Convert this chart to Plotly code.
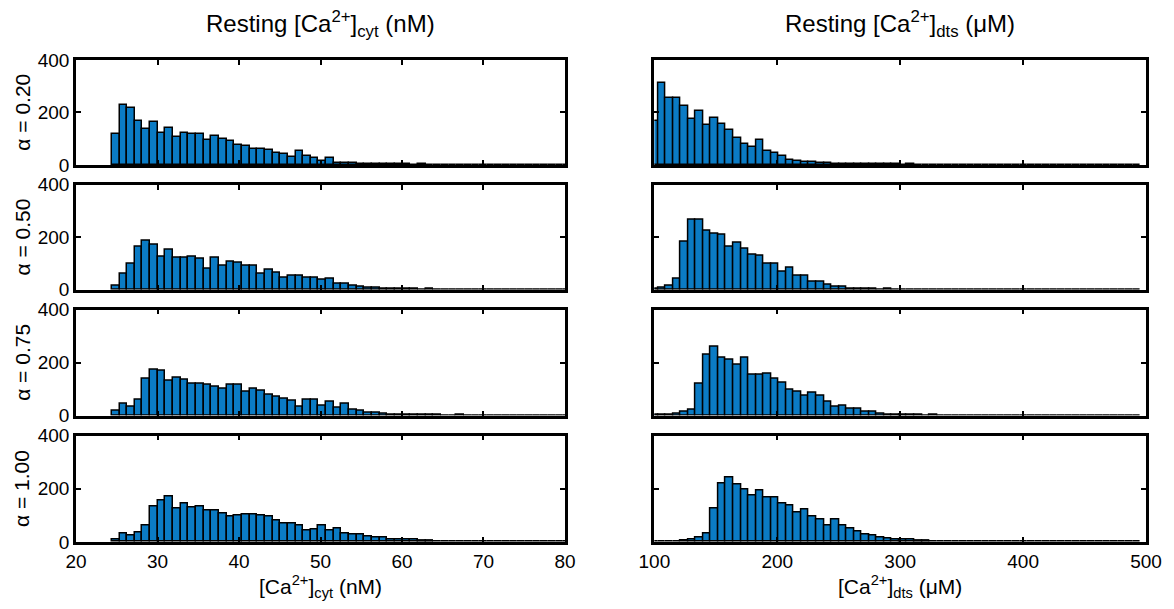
import numpy as np
import plotly.graph_objects as go

# ---------------- data ----------------
alpha_labels = ["α = 0.20", "α = 0.50", "α = 0.75", "α = 1.00"]

cyt_bin_start = 24.4
cyt_bin_width = 0.939
dts_bin_start = 96.8
dts_bin_width = 6.135

cyt_a020 = [119, 229, 216, 169, 137, 165, 121, 141, 106, 122,
            119, 116, 94, 112, 97, 90, 77, 71, 62, 59,
            56, 44, 41, 31, 54, 34, 25, 16, 25, 9,
            8, 6, 5, 4, 3, 3, 2, 2, 2, 1,
            2, 1, 1, 1, 0, 1, 1, 0, 1, 0,
            0, 1, 0, 0, 1, 0, 0, 0, 0, 0]
cyt_a050 = [15, 62, 97, 165, 185, 170, 126, 151, 123, 123,
            126, 119, 80, 123, 90, 107, 101, 90, 90, 61,
            75, 65, 45, 52, 54, 45, 45, 39, 41, 23,
            23, 15, 10, 6, 6, 3, 5, 3, 2, 2,
            1, 2, 1, 1, 1, 0, 1, 0, 1, 0,
            1, 0, 0, 1, 0, 1, 0, 0, 0, 0]
cyt_a075 = [17, 45, 34, 61, 140, 175, 169, 131, 143, 134,
            121, 121, 117, 111, 102, 117, 117, 89, 102, 93,
            80, 73, 64, 57, 34, 59, 59, 38, 51, 29,
            45, 22, 17, 11, 11, 6, 4, 3, 5, 3,
            2, 2, 3, 1, 1, 2, 1, 1, 0, 1,
            1, 0, 1, 0, 0, 1, 0, 0, 0, 0]
cyt_a100 = [10, 32, 23, 35, 63, 134, 156, 172, 124, 146,
            130, 134, 118, 118, 105, 96, 99, 103, 103, 99,
            95, 82, 70, 70, 61, 42, 48, 63, 42, 51,
            32, 29, 27, 20, 15, 15, 10, 8, 8, 10,
            5, 4, 3, 2, 2, 1, 1, 2, 1, 1,
            0, 1, 0, 1, 0, 0, 1, 0, 0, 0]

dts_a020 = [166, 311, 254, 254, 226, 176, 207, 151, 179, 157,
            132, 104, 80, 70, 95, 54, 47, 32, 20, 16,
            11, 10, 7, 6, 5, 4, 4, 3, 3, 2,
            3, 2, 2, 1, 2, 1, 1, 1, 1, 0,
            1, 1, 0, 1, 0, 1, 0, 0, 1, 0,
            0, 1, 0, 0, 0, 1, 0, 0, 0, 0, 0, 0, 0, 0, 0]
dts_a050 = [3, 6, 15, 41, 183, 268, 268, 226, 215, 209,
            164, 179, 155, 135, 129, 99, 99, 67, 84, 52,
            52, 32, 32, 19, 13, 13, 3, 5, 2, 2,
            1, 2, 1, 1, 1, 0, 1, 1, 0, 1,
            0, 1, 0, 0, 1, 0, 0, 1, 0, 0,
            0, 0, 1, 0, 0, 0, 0, 0, 0, 0, 0, 0, 0, 0, 0]
dts_a075 = [2, 3, 4, 9, 13, 22, 121, 229, 261, 220,
            210, 191, 217, 155, 155, 159, 140, 124, 96, 89,
            76, 85, 76, 51, 32, 38, 25, 25, 13, 13,
            6, 4, 3, 3, 2, 2, 1, 2, 1, 1,
            1, 0, 1, 1, 0, 1, 0, 0, 1, 0,
            0, 1, 0, 0, 0, 0, 1, 0, 0, 0, 0, 0, 0, 0, 0]
dts_a100 = [2, 1, 1, 2, 4, 8, 16, 33, 124, 219,
            242, 215, 197, 175, 194, 168, 168, 143, 137, 111,
            122, 96, 86, 63, 86, 63, 51, 38, 29, 25,
            16, 13, 10, 10, 8, 5, 4, 3, 3, 2,
            2, 1, 1, 1, 1, 0, 1, 0, 1, 0,
            0, 1, 0, 0, 0, 1, 0, 0, 0, 0, 0, 0, 0, 0, 0]

cyt_counts = [cyt_a020, cyt_a050, cyt_a075, cyt_a100]
dts_counts = [dts_a020, dts_a050, dts_a075, dts_a100]

cyt_xticks = [20, 30, 40, 50, 60, 70, 80]
dts_xticks = [100, 200, 300, 400, 500]
yticks = [0, 200, 400]

col_titles = ["Resting [Ca<sup>2+</sup>]<sub>cyt</sub> (nM)",
              "Resting [Ca<sup>2+</sup>]<sub>dts</sub> (μM)"]
x_titles = ["[Ca<sup>2+</sup>]<sub>cyt</sub> (nM)",
            "[Ca<sup>2+</sup>]<sub>dts</sub> (μM)"]

# ---------------- style ----------------
BLUE = "#0b7bc4"
FONT = "Arial, Liberation Sans, sans-serif"
W, H = 1174, 609
ML, MR, MT, MB = 76, 24, 60, 67

x_domains = [[0.0, 0.457], [0.5405, 1.0]]
y_domains = [[0.7824, 1.0], [0.5233, 0.741], [0.2622, 0.4819], [0.0, 0.2207]]

fig = go.Figure()
layout = {}
idx = 0
for r in range(4):
    for c in range(2):
        idx += 1
        xa = "x" if idx == 1 else f"x{idx}"
        ya = "y" if idx == 1 else f"y{idx}"
        if c == 0:
            start, bw, counts = cyt_bin_start, cyt_bin_width, cyt_counts[r]
        else:
            start, bw, counts = dts_bin_start, dts_bin_width, dts_counts[r]
        centers = start + bw * (np.arange(len(counts)) + 0.5)
        fig.add_trace(go.Bar(
            x=centers, y=counts, width=bw, xaxis=xa, yaxis=ya,
            marker=dict(color=BLUE, line=dict(color="black", width=1.5)),
            showlegend=False, hoverinfo="skip"))
        xkey = "xaxis" if idx == 1 else f"xaxis{idx}"
        ykey = "yaxis" if idx == 1 else f"yaxis{idx}"
        xt = cyt_xticks if c == 0 else dts_xticks
        layout[xkey] = dict(
            domain=x_domains[c], anchor=ya,
            range=[xt[0], xt[-1]], tickmode="array", tickvals=xt,
            ticktext=[str(v) for v in xt],
            showticklabels=(r == 3),
            ticks="inside", ticklen=5, tickwidth=2, tickcolor="black",
            showline=True, linewidth=2.5, linecolor="black", mirror="ticks",
            showgrid=False, zeroline=False,
            tickfont=dict(family=FONT, size=19, color="black"))
        layout[ykey] = dict(
            domain=y_domains[r], anchor=xa,
            range=[0, 400], tickmode="array", tickvals=yticks,
            ticktext=[str(v) for v in yticks],
            showticklabels=(c == 0),
            ticks="inside", ticklen=5, tickwidth=2, tickcolor="black",
            showline=True, linewidth=2.5, linecolor="black", mirror="ticks",
            showgrid=False, zeroline=False,
            tickfont=dict(family=FONT, size=19, color="black"))

annotations = []
plot_w = W - ML - MR
plot_h = H - MT - MB
for c in range(2):
    xc = (x_domains[c][0] + x_domains[c][1]) / 2
    annotations.append(dict(
        text=col_titles[c], x=xc, y=1 + (MT - 24) / plot_h,
        xref="paper", yref="paper", xanchor="center", yanchor="middle",
        showarrow=False, font=dict(family=FONT, size=24, color="black")))
    annotations.append(dict(
        text=x_titles[c], x=xc, y=-(586 - (H - MB)) / plot_h,
        xref="paper", yref="paper", xanchor="center", yanchor="middle",
        showarrow=False, font=dict(family=FONT, size=21, color="black")))
for r in range(4):
    yc = (y_domains[r][0] + y_domains[r][1]) / 2
    annotations.append(dict(
        text=alpha_labels[r], x=(22 - ML) / plot_w, y=yc,
        xref="paper", yref="paper", xanchor="center", yanchor="middle",
        textangle=-90, showarrow=False,
        font=dict(family=FONT, size=21, color="black")))

fig.update_layout(
    width=W, height=H, margin=dict(l=ML, r=MR, t=MT, b=MB),
    paper_bgcolor="white", plot_bgcolor="white",
    bargap=0, annotations=annotations,
    font=dict(family=FONT, color="black"),
    **layout)

fig.write_html("out.html")
